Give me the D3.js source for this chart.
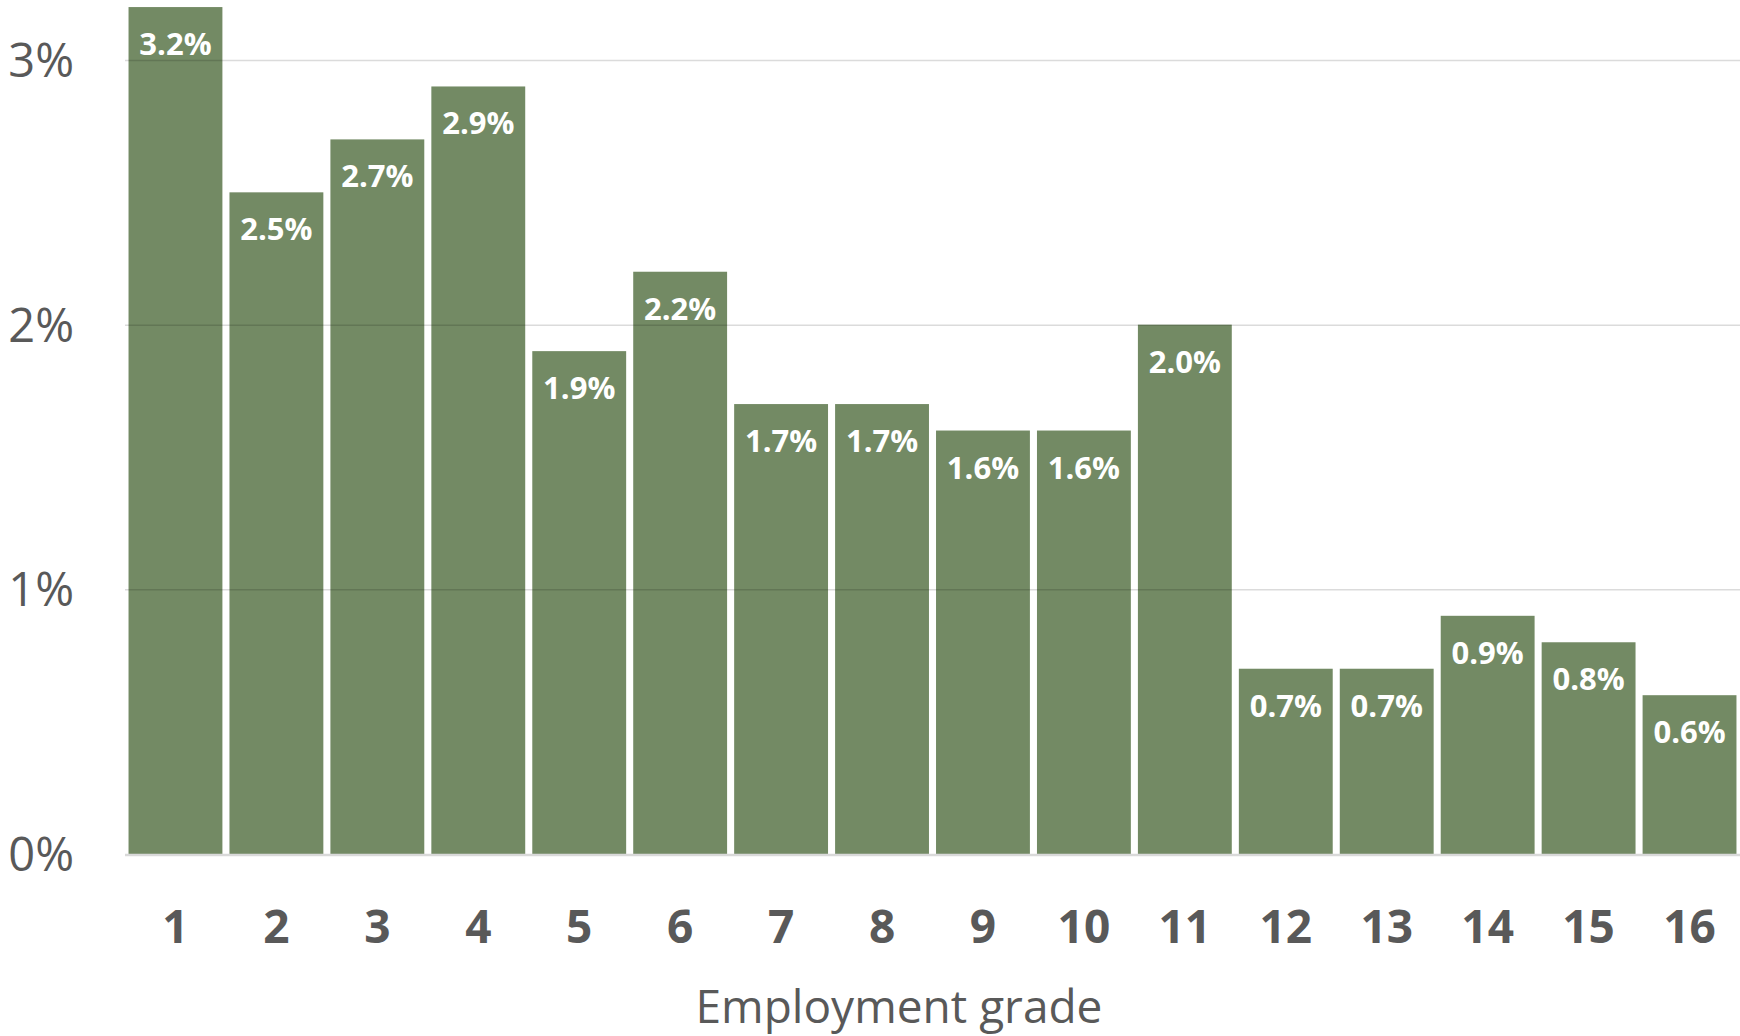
<!DOCTYPE html>
<html>
<head>
<meta charset="utf-8">
<script src="https://cdn.jsdelivr.net/npm/d3@7"></script>
<style>
  html, body { margin: 0; padding: 0; background: #fff; }
  svg { display: block; font-family: "Open Sans", "Noto Sans", sans-serif; }
</style>
</head>
<body>
<svg id="chart" width="1740" height="1036"></svg>
<script>
// Share of staff by employment grade (percent)
const grades = ["1","2","3","4","5","6","7","8","9","10","11","12","13","14","15","16"];
const shares = [3.2, 2.5, 2.7, 2.9, 1.9, 2.2, 1.7, 1.7, 1.6, 1.6, 2.0, 0.7, 0.7, 0.9, 0.8, 0.6];
const yTicks = [0, 1, 2, 3];
const xTitle = "Employment grade";

const svg = d3.select("#chart");
const plot = { left: 125, right: 1740, top: 0, bottom: 854 };

const x = d3.scaleBand()
  .domain(grades)
  .range([plot.left, plot.right])
  .paddingInner(0.07)
  .paddingOuter(0.035);

const y = d3.scaleLinear()
  .domain([0, 3])
  .range([plot.bottom, 60]);

const data = grades.map((g, i) => ({ grade: g, value: shares[i] }));

// bars
svg.append("g").selectAll("rect")
  .data(data)
  .join("rect")
  .attr("x", d => x(d.grade))
  .attr("y", d => y(d.value))
  .attr("width", x.bandwidth())
  .attr("height", d => y(0) - y(d.value))
  .attr("fill", "#738a64");

// horizontal gridlines, drawn over the bars
const yAxis = d3.axisLeft(y)
  .tickValues(yTicks.filter(t => t > 0))
  .tickSize(-(plot.right - plot.left))
  .tickFormat("");
svg.append("g")
  .attr("transform", `translate(${plot.left},0)`)
  .call(yAxis)
  .call(g => g.select(".domain").remove())
  .call(g => g.selectAll("line")
    .attr("stroke", "rgba(0,0,0,0.14)")
    .attr("stroke-width", 1.5));

// baseline
svg.append("line")
  .attr("x1", plot.left).attr("x2", plot.right)
  .attr("y1", y(0) + 1).attr("y2", y(0) + 1)
  .attr("stroke", "#d9d9d9")
  .attr("stroke-width", 2.5);

// y tick labels
svg.append("g").selectAll("text")
  .data(yTicks)
  .join("text")
  .attr("x", 74)
  .attr("y", d => y(d))
  .attr("dy", "0.36em")
  .attr("text-anchor", "end")
  .attr("font-size", 47)
  .attr("fill", "#595959")
  .text(d => d + "%");

// category labels
const xAxis = d3.axisBottom(x).tickSize(0).tickPadding(0);
svg.append("g")
  .attr("transform", `translate(0,${plot.bottom})`)
  .call(xAxis)
  .call(g => g.select(".domain").remove())
  .call(g => g.selectAll("text")
    .attr("y", 89)
    .attr("dy", 0)
    .attr("font-family", "'Open Sans', 'Noto Sans', sans-serif")
    .attr("font-size", 46)
    .attr("font-weight", "bold")
    .attr("fill", "#595959"));

// value labels inside bar tops
svg.append("g").selectAll("text")
  .data(data)
  .join("text")
  .attr("x", d => x(d.grade) + x.bandwidth() / 2)
  .attr("y", d => y(d.value) + 48)
  .attr("text-anchor", "middle")
  .attr("font-size", 31)
  .attr("font-weight", "bold")
  .attr("fill", "#ffffff")
  .text(d => d.value.toFixed(1) + "%");

// axis title
svg.append("text")
  .attr("x", 899)
  .attr("y", 1023)
  .attr("text-anchor", "middle")
  .attr("font-size", 46)
  .attr("fill", "#595959")
  .text(xTitle);
</script>
</body>
</html>
